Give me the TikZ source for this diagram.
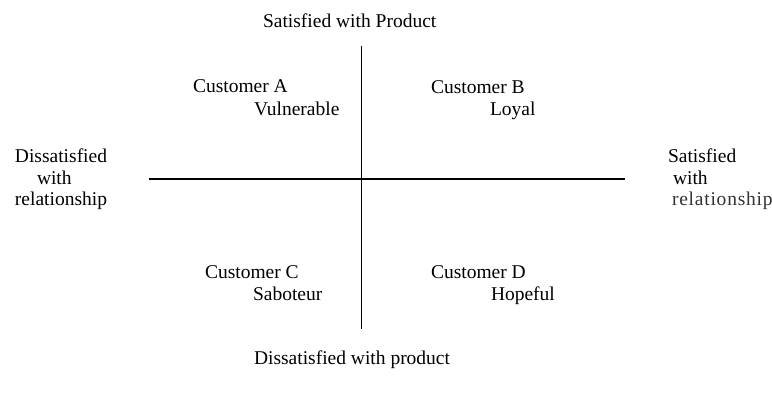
\documentclass[tikz,border=0pt]{standalone}
\usepackage{fontspec}
\setmainfont{Liberation Serif}
\newfontfamily\spacedserif[LetterSpace=4]{Liberation Serif}
\begin{document}
\begin{tikzpicture}[x=1pt,y=-1pt,
  lbl/.style={anchor=base west,inner sep=0pt,outer sep=0pt,font=\fontsize{19.5}{22}\selectfont},
  axis/.style={line width=1.2pt,black}]
\useasboundingbox (0,0) rectangle (772,394);
\fill[white] (0,0) rectangle (772,394);
% axes
\coordinate (vtop) at (361.5,46);
\coordinate (vbot) at (361.5,329);
\coordinate (hleft) at (149,179);
\coordinate (hright) at (625,179);
\draw[axis] (vtop) -- (vbot);
\draw[axis] (hleft) -- (hright);
% top / bottom
\node[lbl] (top) at (263,27) {Satisfied with Product};
\node[lbl] (bottom) at (254,364) {Dissatisfied with product};
% quadrants
\node[lbl] (ca) at (193,92) {Customer A};
\node[lbl] (cav) at (254,115) {Vulnerable};
\node[lbl] (cb) at (431,93) {Customer B};
\node[lbl] (cbl) at (490,115) {Loyal};
\node[lbl] (cc) at (205,278) {Customer C};
\node[lbl] (ccs) at (253,300) {Saboteur};
\node[lbl] (cd) at (431,278) {Customer D};
\node[lbl] (cdh) at (491,300) {Hopeful};
% left
\node[lbl] (l1) at (15,162) {Dissatisfied};
\node[lbl] (l2) at (37,184) {with};
\node[lbl] (l3) at (15,205) {relationship};
% right
\node[lbl] (r1) at (668,162) {Satisfied};
\node[lbl] (r2) at (673,184) {with};
\node[lbl,font=\fontsize{19.5}{22}\spacedserif,text=black!80] (r3) at (672,205) {relationship};
\end{tikzpicture}
\end{document}
